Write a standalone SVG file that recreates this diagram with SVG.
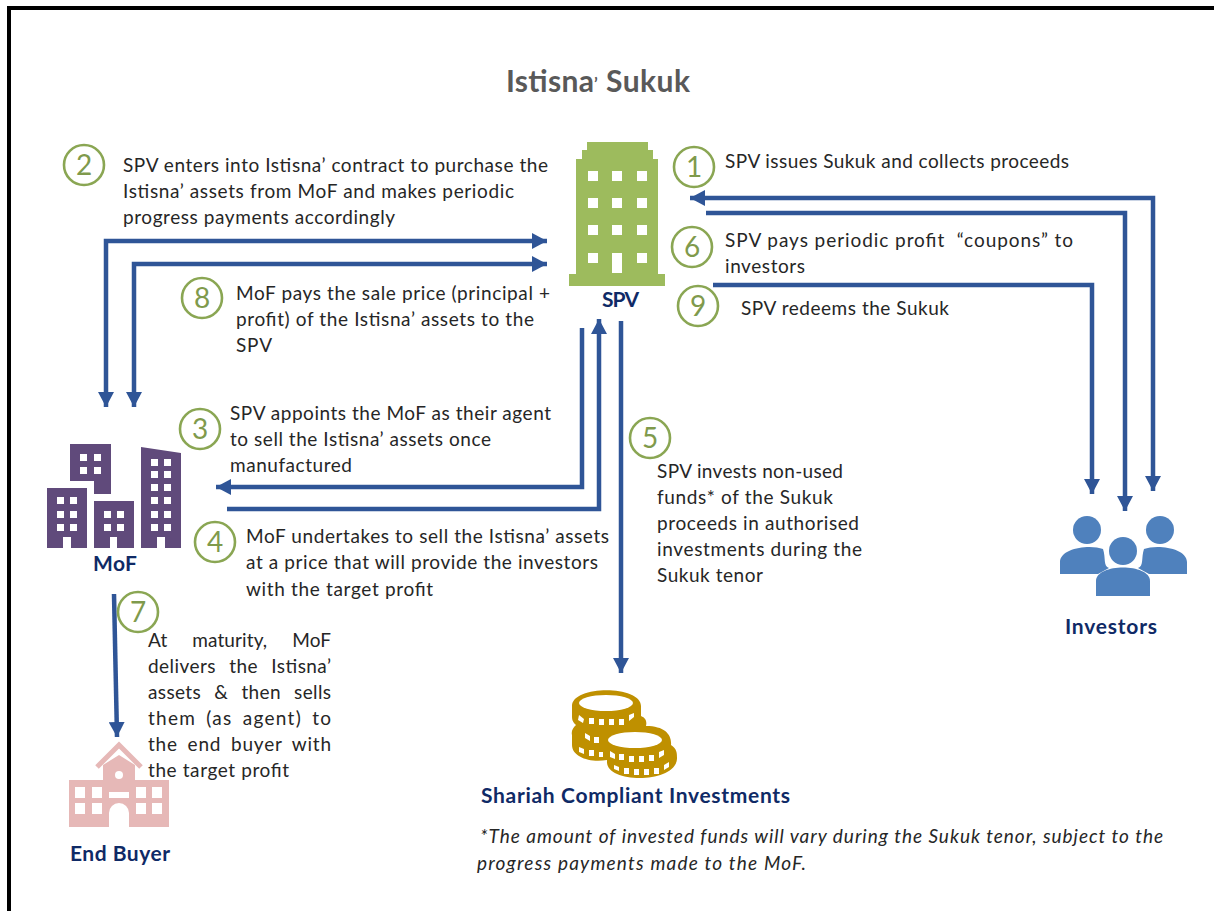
<svg xmlns="http://www.w3.org/2000/svg" width="1214" height="911" viewBox="0 0 1214 911">
<style>
text{font-family:Lato,"Liberation Sans",sans-serif;font-size:19px;fill:#262626}
.lab{font-weight:700;fill:#0f2a66;font-size:21px}
.num{font-size:28px;fill:#7f9a4c;text-anchor:middle}
.ring{fill:#fff;stroke:#8aa653;stroke-width:2.6}
.c{fill:none;stroke:#2f5597;stroke-width:4.5;marker-end:url(#a)}
.b{marker-start:url(#a)}
.w{fill:#fff}
.i{font-style:italic}
.t{font-size:30px;font-weight:700;fill:#595959}
</style>
<defs>
<marker id="a" markerUnits="userSpaceOnUse" markerWidth="16" markerHeight="16" refX="15" refY="8" orient="auto-start-reverse"><path d="M0 0L15 8L0 16z" fill="#2f5597"/></marker>
</defs>
<rect width="1214" height="911" fill="#fff"/>
<path d="M9 911V8H1214" fill="none" stroke="#000" stroke-width="4"/>
<text class="t" y="92"><tspan x="506" textLength="88">Istisna</tspan><tspan x="594" style="font-size:17px" dy="-2">’ </tspan><tspan x="606" dy="2" textLength="84">Sukuk</tspan></text>
<g id="connectors">
<path class="c b" d="M547 241H106V407"/>
<path class="c b" d="M547 264H134V407"/>
<path class="c b" d="M1153 491V198H690"/>
<path class="c" d="M706 213H1125V511"/>
<path class="c" d="M713 285H1092V494"/>
<path class="c" d="M582 328V487H216"/>
<path class="c" d="M227 509H599V319"/>
<path class="c" d="M621 321V673"/>
<path class="c" d="M114 594L117 737"/>
</g>
<g id="spv">
<path fill="#9dbb5d" d="M576 159H582V150H587V142H648V150H653V159H658V274H665V286H569V274H576Z"/>
<g class="w"><rect x="588" y="171" width="10" height="10"/><rect x="612" y="171" width="10" height="10"/><rect x="637" y="171" width="10" height="10"/><rect x="588" y="198" width="10" height="10"/><rect x="612" y="198" width="10" height="10"/><rect x="637" y="198" width="10" height="10"/><rect x="588" y="225" width="10" height="10"/><rect x="612" y="225" width="10" height="10"/><rect x="637" y="225" width="10" height="10"/><rect x="588" y="253" width="10" height="10"/><rect x="612" y="253" width="10" height="20"/><rect x="637" y="253" width="10" height="10"/></g>
<text class="lab" x="602" y="307" textLength="37">SPV</text>
</g>
<g id="mof">
<path fill="#604a7b" d="M70 444H111V494H94V481H70ZM47 488H87V548H71V537H63V548H47ZM94 501H134V548H117V537H110V548H94ZM141 447L181 453V548H165V537H157V548H141Z"/>
<g class="w"><rect x="80" y="454" width="7" height="7"/><rect x="94" y="454" width="7" height="7"/><rect x="80" y="467" width="7" height="7"/><rect x="94" y="467" width="7" height="7"/><rect x="57" y="497" width="7" height="7"/><rect x="70" y="497" width="7" height="7"/><rect x="57" y="511" width="7" height="7"/><rect x="70" y="511" width="7" height="7"/><rect x="57" y="524" width="7" height="7"/><rect x="70" y="524" width="7" height="7"/><rect x="104" y="511" width="7" height="7"/><rect x="117" y="511" width="7" height="7"/><rect x="104" y="524" width="7" height="7"/><rect x="117" y="524" width="7" height="7"/><rect x="151" y="459" width="7" height="7"/><rect x="164" y="459" width="7" height="7"/><rect x="151" y="471" width="7" height="7"/><rect x="164" y="471" width="7" height="7"/><rect x="151" y="484" width="7" height="7"/><rect x="164" y="484" width="7" height="7"/><rect x="151" y="497" width="7" height="7"/><rect x="164" y="497" width="7" height="7"/><rect x="151" y="511" width="7" height="7"/><rect x="164" y="511" width="7" height="7"/><rect x="151" y="524" width="7" height="7"/><rect x="164" y="524" width="7" height="7"/></g>
<text class="lab" x="93" y="571" textLength="44">MoF</text>
</g>
<g id="end-buyer">
<path fill="#e6b8b7" d="M69 780H103V765L119 755L135 765V780H169V827H129V813A10 10 0 0 0 109 813V827H69Z"/>
<path fill="none" stroke="#e6b8b7" stroke-width="5" d="M97 767L119 745L141 767"/>
<g class="w"><circle cx="119" cy="775" r="4"/><rect x="109" y="792" width="20" height="6"/><rect x="75" y="787" width="10" height="11"/><rect x="92" y="787" width="10" height="11"/><rect x="136" y="787" width="10" height="11"/><rect x="152" y="787" width="10" height="11"/><rect x="75" y="803" width="10" height="11"/><rect x="92" y="803" width="10" height="11"/><rect x="136" y="803" width="10" height="11"/><rect x="152" y="803" width="10" height="11"/></g>
<text class="lab" x="70" y="861" textLength="100">End Buyer</text>
</g>
<g id="shariah">
<path fill="#bf9000" d="M572 706C572 685 641 685 641 706V716C646 718 647 722 646 726C665 726 672 735 671 745C677 749 677 753 677 758C677 784 607 784 607 762L607 760C590 763 572 757 572 745V735C571 731 573 728 576 725C572 722 572 718 572 716Z"/>
<g class="w"><ellipse cx="606" cy="703" rx="27" ry="8"/><ellipse cx="635" cy="740" rx="27" ry="8"/><path d="M579 715l5 4-1 4-5-3zM589 718h5v6h-5zM599 719h5v6h-5zM609 719h5v6h-5zM619 719h5v6h-5zM629 715l5-2v4l-5 4zM585 733l5 3v5l-5-3zM594 737h5v6h-5zM579 747l5 2v5l-5-2zM589 750h5v6h-5zM599 752h4v5h-4zM610 751l5 3v5l-5-2zM619 754h5v6h-5zM629 756h5v6h-5zM639 756h5v6h-5zM649 755h5v6h-5zM659 752l5-2v5l-5 3zM614 765l5 2v4l-5-2zM624 768h5v6h-5zM634 769h5v6h-5zM644 769h5v6h-5zM654 768h5v6h-5zM664 765l5-3v5l-5 3z"/></g>
<text class="lab" x="481" y="803" textLength="309">Shariah Compliant Investments</text>
</g>
<g id="investors">
<g fill="#4f81bd"><circle cx="1087" cy="530" r="14"/><circle cx="1160" cy="530" r="14"/><path d="M1060 574V562C1060 548 1090 544 1103 549C1106 558 1103 566 1109 568L1098 574Z"/><path d="M1187 574V562C1187 548 1157 544 1144 549C1141 558 1144 566 1138 568L1149 574Z"/><circle cx="1123" cy="551" r="14"/><path d="M1096 596V581C1096 563 1150 563 1150 581V596Z"/></g>
<text class="lab" x="1065" y="634" textLength="92">Investors</text>
</g>
<g id="steps">
<g id="s1"><circle class="ring" cx="694" cy="167" r="20"/><text class="num" x="694" y="177">1</text><text x="725" y="168" textLength="344">SPV issues Sukuk and collects proceeds</text></g>
<g id="s2"><circle class="ring" cx="84" cy="165" r="20"/><text class="num" x="84" y="175">2</text><text x="123" y="172" textLength="425">SPV enters into Istisna’ contract to purchase the</text><text x="123" y="198" textLength="391">Istisna’ assets from MoF and makes periodic</text><text x="123" y="224" textLength="272">progress payments accordingly</text></g>
<g id="s3"><circle class="ring" cx="200" cy="429" r="20"/><text class="num" x="200" y="439">3</text><text x="230" y="420" textLength="321">SPV appoints the MoF as their agent</text><text x="230" y="446" textLength="261">to sell the Istisna’ assets once</text><text x="230" y="472" textLength="122">manufactured</text></g>
<g id="s4"><circle class="ring" cx="215" cy="542" r="20"/><text class="num" x="215" y="552">4</text><text x="246" y="543" textLength="363">MoF undertakes to sell the Istisna’ assets</text><text x="246" y="569" textLength="352">at a price that will provide the investors</text><text x="246" y="596" textLength="187">with the target profit</text></g>
<g id="s5"><circle class="ring" cx="650" cy="438" r="20"/><text class="num" x="650" y="448">5</text><text x="657" y="478" textLength="186">SPV invests non-used</text><text x="657" y="504" textLength="176">funds* of the Sukuk</text><text x="657" y="530" textLength="202">proceeds in authorised</text><text x="657" y="556" textLength="205">investments during the</text><text x="657" y="582" textLength="106">Sukuk tenor</text></g>
<g id="s6"><circle class="ring" cx="692" cy="247" r="20"/><text class="num" x="692" y="257">6</text><text x="725" y="247" textLength="348">SPV pays periodic profit&#160; “coupons” to</text><text x="725" y="273" textLength="80">investors</text></g>
<g id="s7"><circle class="ring" cx="138" cy="612" r="20"/><text class="num" x="138" y="622">7</text><text x="148" y="647" textLength="183" style="word-spacing:20px">At maturity, MoF</text><text x="148" y="673" textLength="183" style="word-spacing:8px">delivers the Istisna’</text><text x="148" y="699" textLength="183" style="word-spacing:8px">assets &amp; then sells</text><text x="148" y="725" textLength="183" style="word-spacing:4px">them (as agent) to</text><text x="148" y="751" textLength="183" style="word-spacing:4px">the end buyer with</text><text x="148" y="777" textLength="141">the target profit</text></g>
<g id="s8"><circle class="ring" cx="202" cy="298" r="20"/><text class="num" x="202" y="308">8</text><text x="236" y="300" textLength="314">MoF pays the sale price (principal +</text><text x="236" y="326" textLength="298">profit) of the Istisna’ assets to the</text><text x="236" y="352" textLength="36">SPV</text></g>
<g id="s9"><circle class="ring" cx="698" cy="306" r="20"/><text class="num" x="698" y="316">9</text><text x="741" y="315" textLength="208">SPV redeems the Sukuk</text></g>
</g>
<text class="i" x="480" y="843" textLength="683">*The amount of invested funds will vary during the Sukuk tenor, subject to the</text>
<text class="i" x="477" y="870" textLength="329">progress payments made to the MoF.</text>
</svg>
